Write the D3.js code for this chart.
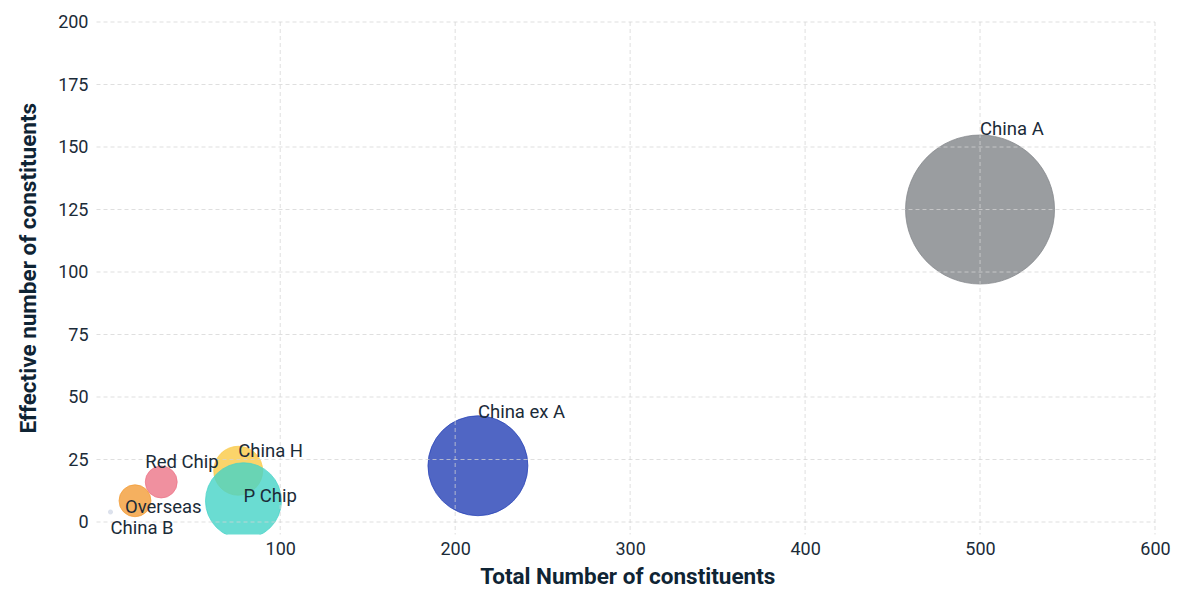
<!DOCTYPE html>
<html>
<head>
<meta charset="utf-8">
<script src="https://cdn.jsdelivr.net/npm/d3@7/dist/d3.min.js"></script>
<style>
  body { margin: 0; background: #fff; }
  svg text { font-family: Roboto, "Noto Sans", sans-serif; }
</style>
</head>
<body>
<svg id="chart" width="1200" height="600"></svg>
<script>
// data (listed in drawing order)
var names = ["China A", "China ex A", "China H", "P Chip", "Red Chip", "Overseas", "China B"];
var totalCount = [500, 213, 76, 79, 32, 17, 3];
var effectiveCount = [125, 22.5, 20.5, 8.5, 16, 8.5, 4];
var weight = [100, 45, 10.8, 26, 4.6, 4.6, 0.08];
var xTicks = [100, 200, 300, 400, 500, 600];
var yTicks = [0, 25, 50, 75, 100, 125, 150, 175, 200];

var colors = {
    "China A": "#818488",
    "China ex A": "#2440b5",
    "P Chip": "#45d3c7",
    "China H": "#fac945",
    "Red Chip": "#ec7487",
    "Overseas": "#f39c37",
    "China B": "#d5dbe8"
};
// label nudges in px (dx, anchor: bubble top or centre, dy)
var labelPos = {
    "China A": [0, "top", 0],
    "China ex A": [0, "top", 2],
    "P Chip": [0, "mid", 1],
    "China H": [0, "top", 11],
    "Red Chip": [-16, "top", 2],
    "Overseas": [-10, "mid", 12],
    "China B": [0, "mid", 22]
};

var svg = d3.select("#chart");
var plotL = 96.5, plotR = 1155, plotT = 22, plotB = 534.5;

var x = d3.scaleLinear().domain([-5, 600]).range([plotL, plotR]);
var y = d3.scaleLinear().domain([-5, 200]).range([plotB, plotT]);
var r = d3.scaleSqrt().domain([0, 100]).range([0, 74.5]);

var data = names.map(function(n, i){
    return {name: n, tx: totalCount[i], ey: effectiveCount[i], w: weight[i]};
});

svg.append("defs").append("clipPath").attr("id", "plotClip")
    .append("rect")
    .attr("x", plotL).attr("y", plotT)
    .attr("width", plotR - plotL).attr("height", plotB - plotT);

var bubbles = svg.append("g").attr("clip-path", "url(#plotClip)");
bubbles.selectAll("circle")
    .data(data)
    .enter().append("circle")
    .attr("cx", function(d){ return x(d.tx); })
    .attr("cy", function(d){ return y(d.ey); })
    .attr("r", function(d){ return Math.max(r(d.w), 2); })
    .style("fill", function(d){ return colors[d.name]; })
    .style("fill-opacity", 0.8)
    .style("stroke", function(d){ return colors[d.name]; })
    .style("stroke-opacity", 0.9)
    .style("stroke-width", 0.8);

// grid sits above the bubbles in the reference
var grid = svg.append("g").style("pointer-events", "none");
grid.selectAll(".hgrid").data(yTicks).enter().append("line")
    .attr("x1", plotL).attr("x2", plotR)
    .attr("y1", function(d){ return y(d); })
    .attr("y2", function(d){ return y(d); })
    .style("stroke", "#d4d4d4")
    .style("stroke-opacity", 0.75)
    .style("stroke-dasharray", "4,3")
    .style("stroke-width", 1);
grid.selectAll(".vgrid").data(xTicks).enter().append("line")
    .attr("y1", plotT).attr("y2", plotB)
    .attr("x1", function(d){ return x(d); })
    .attr("x2", function(d){ return x(d); })
    .style("stroke", "#d4d4d4")
    .style("stroke-opacity", 0.75)
    .style("stroke-dasharray", "4,3")
    .style("stroke-width", 1);

// axes
var xAxis = svg.append("g")
    .attr("transform", "translate(0," + plotB + ")")
    .call(d3.axisBottom(x).tickValues(xTicks).tickSize(0).tickPadding(8));
var yAxis = svg.append("g")
    .attr("transform", "translate(" + plotL + ",0)")
    .call(d3.axisLeft(y).tickValues(yTicks).tickSize(0).tickPadding(8));
[xAxis, yAxis].forEach(function(a){
    a.select(".domain").remove();
    a.selectAll("text")
        .style("font-size", "18px")
        .style("fill", "#1b2b38");
});

svg.append("text")
    .attr("x", (plotL + plotR) / 2 + 2)
    .attr("y", 584)
    .attr("text-anchor", "middle")
    .style("font-size", "22.5px")
    .style("font-weight", "bold")
    .style("fill", "#0f2434")
    .text("Total Number of constituents");

svg.append("text")
    .attr("transform", "translate(36," + ((plotT + plotB) / 2 - 10) + ") rotate(-90)")
    .attr("text-anchor", "middle")
    .style("font-size", "22.5px")
    .style("font-weight", "bold")
    .style("fill", "#0f2434")
    .text("Effective number of constituents");

// bubble labels
svg.append("g").selectAll("text")
    .data(data).enter().append("text")
    .attr("x", function(d){ return x(d.tx) + labelPos[d.name][0]; })
    .attr("y", function(d){
        var p = labelPos[d.name];
        var base = p[1] == "top" ? y(d.ey) - r(d.w) : y(d.ey);
        return base + p[2];
    })
    .style("font-size", "18.5px")
    .style("fill", "#1b2b38")
    .text(function(d){ return d.name; });
</script>
</body>
</html>
